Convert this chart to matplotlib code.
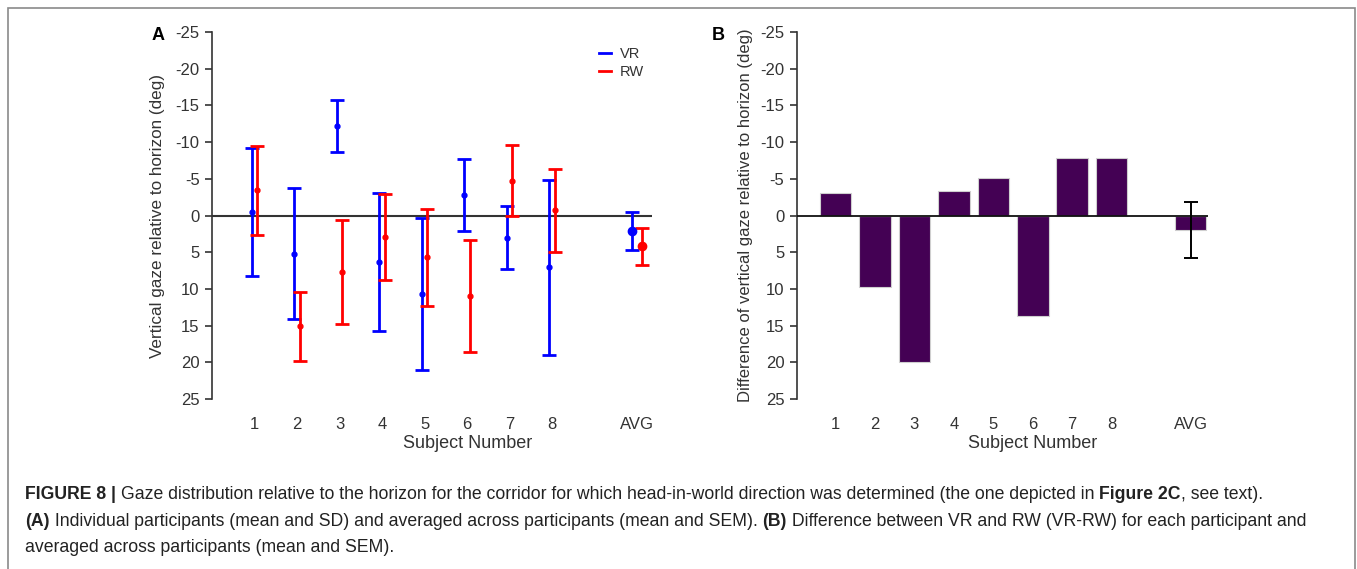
import numpy as np
import matplotlib
matplotlib.use("Agg")
import matplotlib.pyplot as plt
from matplotlib.patches import Rectangle
from matplotlib.lines import Line2D

plt.rcParams['font.family'] = ['Liberation Sans', 'DejaVu Sans']
plt.rcParams['axes.unicode_minus'] = False

# data (deg, negative = above horizon)
subjects = [1, 2, 3, 4, 5, 6, 7, 8]
tick_labels = ['1', '2', '3', '4', '5', '6', '7', '8', 'AVG']
avg_pos = 10

vr_mean = [-0.5, 5.2, -12.2, 6.35, 10.7, -2.8, 3.0, 7.05]
vr_sd = [8.7, 8.9, 3.5, 9.45, 10.4, 4.9, 4.35, 11.9]
rw_mean = [-3.45, 15.1, 7.7, 2.95, 5.7, 10.95, -4.75, -0.7]
rw_sd = [6.05, 4.7, 7.15, 5.9, 6.65, 7.65, 4.8, 5.7]
vr_avg, vr_sem = 2.1, 2.55
rw_avg, rw_sem = 4.2, 2.5

diff = [-3.0, 9.8, 19.9, -3.4, -5.1, 13.7, -7.8, -7.9]
diff_avg, diff_sem = 2.0, 3.8

W, H = 1357, 569
fig = plt.figure(figsize=(W / 100, H / 100), dpi=100)
txt = '#333333'


def px_axes(x0, x1, y0, y1):
    return fig.add_axes([x0 / W, 1 - y1 / H, (x1 - x0) / W, (y1 - y0) / H])


def style(ax):
    for s in ['top', 'right', 'bottom']:
        ax.spines[s].set_visible(False)
    ax.spines['left'].set_color(txt)
    ax.spines['left'].set_linewidth(1.2)
    ax.set_ylim(25, -25)
    ax.set_yticks(np.arange(-25, 26, 5))
    ax.tick_params(axis='y', direction='out', length=5, width=1.2, color=txt,
                   labelsize=12, labelcolor=txt, pad=4)
    ax.tick_params(axis='x', length=0, labelsize=12, labelcolor=txt, pad=13)
    ax.set_xticks(subjects + [avg_pos])
    ax.set_xticklabels(tick_labels)


# ---- panel A
axA = px_axes(212, 652, 32, 399)
style(axA)
axA.set_xlim(0, 10.35)
axA.axhline(0, color='#333333', lw=1.5, zorder=1)
xs = np.array(subjects)
off = 0.065
axA.errorbar(xs - off, vr_mean, yerr=vr_sd, fmt='o', color='#0000ff', ms=3.5,
             lw=2, capsize=5, capthick=2, zorder=3)
axA.errorbar(xs + off, rw_mean, yerr=rw_sd, fmt='o', color='#ff0000', ms=3.5,
             lw=2, capsize=5, capthick=2, zorder=3)
axA.errorbar([avg_pos - 0.11], [vr_avg], yerr=[vr_sem], fmt='o', color='#0000ff',
             ms=6, lw=2, capsize=5, capthick=2, zorder=3)
axA.errorbar([avg_pos + 0.11], [rw_avg], yerr=[rw_sem], fmt='o', color='#ff0000',
             ms=6, lw=2, capsize=5, capthick=2, zorder=3)
axA.set_xlabel('Subject Number', fontsize=13, color=txt)
axA.xaxis.set_label_coords(0.58, -0.098)
axA.set_ylabel('Vertical gaze relative to horizon (deg)', fontsize=12.3, color=txt)
axA.yaxis.set_label_coords(-0.107, 0.5)
handles = [Line2D([], [], color='#0000ff', lw=2), Line2D([], [], color='#ff0000', lw=2)]
axA.legend(handles, ['VR', 'RW'], loc='upper left', bbox_to_anchor=(0.85, 0.995),
           frameon=False, fontsize=10.5, handlelength=0.8, handletextpad=0.6,
           labelspacing=0.3, labelcolor=txt)
fig.text(158 / W, 1 - 35 / H, 'A', fontsize=13, fontweight='bold', ha='center', va='center')

# ---- panel B
axB = px_axes(797, 1208, 32, 399)
style(axB)
axB.set_xlim(0.025, 10.44)
axB.bar(subjects, diff, width=0.8, color='#440154', edgecolor='#cfcfcf', lw=0.8, zorder=2)
axB.bar([avg_pos], [diff_avg], width=0.8, color='#440154', edgecolor='#cfcfcf', lw=0.8, zorder=2)
axB.axhline(0, color='#111111', lw=1.3, zorder=3)
axB.errorbar([avg_pos], [diff_avg], yerr=[diff_sem], fmt='none', ecolor='black',
             lw=1.4, capsize=5, capthick=1.4, zorder=4)
axB.set_xlabel('Subject Number', fontsize=13, color=txt)
axB.xaxis.set_label_coords(0.574, -0.098)
axB.set_ylabel('Difference of vertical gaze relative to horizon (deg)', fontsize=12, color=txt)
axB.yaxis.set_label_coords(-0.108, 0.5)
fig.text(718 / W, 1 - 35 / H, 'B', fontsize=13, fontweight='bold', ha='center', va='center')

# ---- border
fig.patches.append(Rectangle((8 / W, -0.05), (1355 - 8) / W, 1.05 - 8 / H,
                             transform=fig.transFigure, fill=False,
                             edgecolor='#8a8a8a', lw=1.2))

# ---- caption with mixed bold / normal pieces
caption = [
    [("FIGURE 8 | ", 'bold'),
     ("Gaze distribution relative to the horizon for the corridor for which head-in-world "
      "direction was determined (the one depicted in ", 'normal'),
     ("Figure 2C", 'bold'), (", see text).", 'normal')],
    [("(A)", 'bold'),
     (" Individual participants (mean and SD) and averaged across participants (mean and SEM). ",
      'normal'),
     ("(B)", 'bold'),
     (" Difference between VR and RW (VR-RW) for each participant and", 'normal')],
    [("averaged across participants (mean and SEM).", 'normal')],
]
baselines = [499, 526, 552]
fig.canvas.draw()
renderer = fig.canvas.get_renderer()
for line, yb in zip(caption, baselines):
    x = 25
    for s, w in line:
        t = fig.text(x / W, 1 - yb / H, s, fontsize=12.7, fontweight=w,
                     color='#222222', va='baseline', ha='left')
        bb = t.get_window_extent(renderer)
        x += bb.width

fig.savefig('out.png', dpi=100)
